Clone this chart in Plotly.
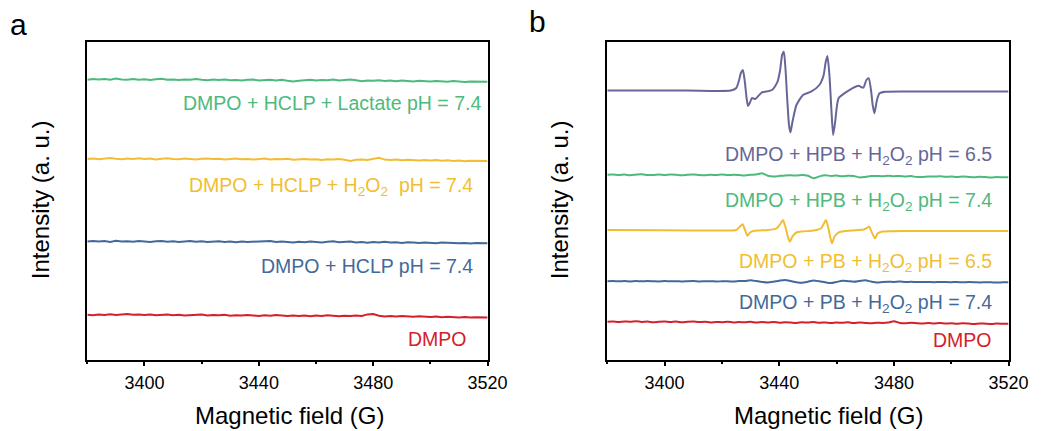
import numpy as np
import plotly.graph_objects as go

FIELD_MIN, FIELD_MAX = 3380, 3520
TICKS = [3400, 3440, 3480, 3520]

# ---- Panel a: noise-only spectra (relative intensity, 2 G steps) ----
A_LACTATE = [0.2, 0.9, 0.4, 1.1, 0.3, 1.4, 0.6, 0.2, 1.0, 0.3,
             0.8, 0.1, 0.7, 1.2, 0.2, 0.5, -0.1, 0.6, 0.2, 1.0,
             0.3, -0.2, 0.4, 0.0, 0.6, -0.3, 0.1, -0.5, 0.2, 0.5,
             -0.6, -0.1, 0.3, -0.4, 0.2, -0.8, -1.6, -0.7, -0.3, 0.2,
             -0.5, 0.1, -0.2, 0.6, -0.6, -0.1, 0.4, -0.3, -1.2, -0.4,
             -0.8, -0.2, -1.0, -0.5, -1.3, -0.6, -0.9, -1.4, -0.7, -1.1,
             -1.6, -0.9, -1.3, -1.8, -1.0, -1.5, -2.1, -1.4, -1.7, -2.0,
             -1.8]
A_H2O2 = [0.1, 0.6, -0.2, 0.4, 0.9, 0.2, -0.3, 0.5, 0.1, 0.7,
          0.0, 0.4, -0.4, 0.3, 0.8, 0.1, -0.2, 0.5, 0.0, -0.5,
          0.2, 0.6, -0.1, 0.3, -0.4, 0.1, 0.5, -0.3, 0.0, -0.6,
          -0.1, 0.4, -0.5, 0.0, -0.3, 0.3, -0.7, -0.2, 0.1, -0.6,
          -0.3, -0.9, -0.2, -0.6, 0.0, -0.8, -2.0, -0.7, -0.4, -1.0,
          0.3, 1.2, -0.6, -1.1, -0.5, -1.3, -0.8, -1.2, -1.6, -0.9,
          -1.4, -1.1, -1.7, -1.2, -1.9, -1.5, -2.2, -1.7, -2.0, -2.3,
          -2.0]
A_HCLP = [0.2, 0.8, 0.1, 0.6, -0.2, 0.9, 0.3, 0.5, -0.1, 0.7,
          0.2, -0.3, 0.4, 0.8, 0.0, 0.5, -0.2, 0.3, 0.6, -0.1,
          0.4, -0.4, 0.2, 0.5, -0.3, 0.1, -0.6, 0.3, -0.2, 0.0,
          -0.5, 0.2, 0.6, -0.3, 0.1, -0.4, -0.8, 0.0, -0.5, 0.3,
          -0.2, -0.7, -0.1, 0.4, -0.6, -0.3, 0.2, -0.8, -0.4, -1.0,
          -0.3, -0.7, 0.0, -0.9, -0.5, -1.2, -0.6, -0.9, -1.3, -0.8,
          -1.1, -1.5, -0.9, -1.3, -1.0, -1.6, -1.2, -1.8, -1.3, -1.6,
          -1.5]
A_DMPO = [0.3, -0.2, 0.5, 0.1, 0.7, -0.1, 0.4, 0.9, 0.2, 0.5,
          0.0, 0.6, -0.3, 0.2, 0.4, -0.2, 0.3, -0.4, 0.1, -0.1,
          0.4, -0.5, 0.0, -0.3, 0.2, -0.7, -0.2, -0.6, 0.1, -0.4,
          -0.9, -0.3, -0.7, -0.1, -0.8, -1.1, -0.5, -0.9, -0.4, -1.2,
          -0.6, -1.0, -0.3, -0.9, -1.3, -0.7, -1.1, -0.5, -1.0, 0.6,
          1.0, -0.8, -1.4, -1.0, -1.6, -1.1, -1.5, -1.8, -1.2, -1.7,
          -2.0, -1.5, -2.2, -1.7, -2.1, -2.4, -1.9, -2.6, -2.2, -2.5,
          -2.4]

# ---- Panel b ----
# DMPO-OH quartet, HPB + H2O2 at pH 6.5 (field, relative intensity)
HPB65_FIELD = [3380, 3407.7, 3423.1, 3425.0, 3426.0, 3426.6, 3427.3, 3428.0,
               3428.6, 3429.1, 3429.7, 3430.5, 3431.6, 3433.0, 3434.0, 3437.5,
               3439.4, 3440.3, 3441.0, 3441.6, 3442.2, 3442.8, 3443.4, 3443.9,
               3444.6, 3446.0, 3448.3, 3451.1, 3454.0, 3455.5, 3456.2, 3456.8,
               3457.5, 3458.2, 3458.8, 3459.5, 3460.7, 3463.6, 3467.6, 3469.3,
               3470.4, 3471.2, 3472.0, 3472.6, 3473.2, 3474.1, 3475.0, 3477.0,
               3490, 3520]
HPB65_INT = [0.5, 0.5, 0.5, 3, 11, 18, 21, 9,
             -7, -15, -12, -7, -8, -4, -1.3, 1,
             9.3, 21, 36, 39.3, 21, -9, -34, -41.3,
             -31, -14, -4, -0.7, 6, 16, 29, 35,
             16, -19, -44, -31, -7.3, -0.7, 5.3, 3.3,
             11, 12.7, 1, -14, -22.3, -9, -2.3, -0.7,
             -0.5, -0.5]

B_HPB74 = [0.2, 0.6, 0.0, 0.4, -0.2, 0.3, 0.7, 0.1, -0.1, 0.4,
           0.0, 0.5, 0.2, -0.3, 0.3, 0.6, 0.1, -0.2, 0.2, 0.0,
           0.4, -0.1, 0.3, 0.0, -0.4, 0.2, 0.6, 1.8, -0.8, -1.6,
           -1.0, -0.4, -0.2, -0.6, -0.1, -0.8, -3.2, -1.4, -0.3, -0.9,
           -0.6, -1.3, -0.7, -1.0, -2.4, -1.9, -1.1, -0.9, -1.3, -0.8,
           -1.2, -0.9, -1.5, -1.1, -2.1, -1.9, -1.4, -1.6, -1.2, -1.8,
           -1.5, -2.0, -1.6, -1.9, -2.2, -1.8, -2.1, -2.4, -2.0, -2.3,
           -2.2]

PB65_FIELD = [3380, 3400, 3420, 3425.0, 3426.3, 3427.2, 3428.0, 3428.9,
              3429.8, 3431.0, 3436.0, 3439.0, 3440.5, 3441.3, 3442.1, 3443.0,
              3443.7, 3444.6, 3446.0, 3448.0, 3452.0, 3454.5, 3455.6, 3456.3,
              3457.1, 3457.8, 3458.4, 3459.3, 3461.0, 3465.0, 3469.5, 3470.6,
              3471.4, 3472.3, 3473.4, 3474.3, 3476.0, 3490, 3520]
PB65_INT = [0.5, 0.3, 0.0, 0.5, 4, 6.2, 1, -5.2,
            -2, -0.5, 0.5, 2, 7, 10.5, 4, -6,
            -11.2, -6, -2, -1, 0, 2, 7, 10.5,
            3, -7, -12.8, -6, -1.5, 0, 1, 2.5,
            3.8, -2, -7.8, -3, -1, -0.5, -0.5]

B_PB74 = [0.1, 0.3, 0.0, 0.2, -0.1, 0.2, 0.0, 0.3, 0.1, -0.1,
          0.2, 0.0, 0.1, -0.2, 0.1, 0.2, -0.1, 0.0, 0.1, -0.2,
          0.0, 0.1, -0.3, 0.2, 0.4, 1.0, 0.2, -0.6, -1.2, -0.4,
          0.6, 1.3, 0.2, -1.0, -1.5, -0.4, 0.8, 0.0, -1.0, -1.8,
          -0.7, 0.5, 0.1, -0.4, 0.3, 1.0, -0.2, -1.2, -0.8, -0.5,
          -0.6, -0.3, -0.7, -0.5, -0.8, -0.6, -0.7, -0.9, -0.6, -0.8,
          -0.9, -0.7, -1.0, -0.8, -0.9, -1.1, -0.9, -1.0, -1.2, -1.0,
          -1.0]
B_DMPO = [0.2, 0.5, -0.1, 0.6, 0.2, 0.8, 0.1, 0.4, -0.2, 0.3,
          0.6, 0.0, 0.4, -0.3, 0.2, 0.5, -0.1, 0.3, -0.4, 0.1,
          -0.2, 0.3, -0.5, 0.0, -0.3, 0.2, -0.6, -0.1, -0.4, 0.1,
          -0.7, -0.2, -0.5, -0.9, -0.3, -0.6, -0.1, -0.8, -0.4, -1.0,
          -0.5, -0.8, -0.3, -1.1, -0.6, -0.9, -1.2, -0.7, -1.0, -0.6,
          0.8, -0.9, -1.3, -0.8, -1.2, -1.5, -1.0, -1.4, -1.1, -1.6,
          -1.3, -1.7, -1.2, -1.5, -1.9, -1.4, -1.7, -2.0, -1.6, -1.8,
          -1.7]

LABELS_A = ["DMPO + HCLP + Lactate pH = 7.4",
            "DMPO + HCLP + H<sub>2</sub>O<sub>2</sub>  pH = 7.4",
            "DMPO + HCLP pH = 7.4",
            "DMPO"]
LABELS_B = ["DMPO + HPB + H<sub>2</sub>O<sub>2</sub> pH = 6.5",
            "DMPO + HPB + H<sub>2</sub>O<sub>2</sub> pH = 7.4",
            "DMPO + PB + H<sub>2</sub>O<sub>2</sub> pH = 6.5",
            "DMPO + PB + H<sub>2</sub>O<sub>2</sub> pH = 7.4",
            "DMPO"]

# stacking offsets and styling
OFFSETS_A = [279.5, 200.5, 117.8, 44.5]
OFFSETS_B = [268.5, 184.5, 129.0, 78.2, 37.5]
GREEN, YELLOW, BLUE, RED, PURPLE = "#4cba7c", "#f1be33", "#43699a", "#d5202c", "#666699"
COLORS_A = [GREEN, YELLOW, BLUE, RED]
COLORS_B = [PURPLE, GREEN, YELLOW, BLUE, RED]

W, H = 1057, 431
FONT = "Liberation Sans, Arial, Helvetica, sans-serif"


def grid(vals):
    return np.linspace(FIELD_MIN, FIELD_MAX, len(vals))


fig = go.Figure()

series_a = [(grid(v), v) for v in (A_LACTATE, A_H2O2, A_HCLP, A_DMPO)]
for (fx, iv), off, col in zip(series_a, OFFSETS_A, COLORS_A):
    fig.add_trace(go.Scatter(x=fx, y=np.array(iv) + off, mode="lines",
                             line=dict(color=col, width=2), xaxis="x", yaxis="y",
                             showlegend=False, hoverinfo="skip"))

series_b = [(np.array(HPB65_FIELD), HPB65_INT), (grid(B_HPB74), B_HPB74),
            (np.array(PB65_FIELD), PB65_INT), (grid(B_PB74), B_PB74),
            (grid(B_DMPO), B_DMPO)]
for (fx, iv), off, col in zip(series_b, OFFSETS_B, COLORS_B):
    fig.add_trace(go.Scatter(x=fx, y=np.array(iv) + off, mode="lines",
                             line=dict(color=col, width=2, shape="spline", smoothing=0.6),
                             xaxis="x2", yaxis="y2", showlegend=False, hoverinfo="skip"))


def px_x(p):
    return p / W


def px_y(p):
    return 1 - p / H


xdom_a = [px_x(89), px_x(497)]
xdom_b = [px_x(619), px_x(1028)]
ydom = [px_y(359.5), px_y(41.5)]

xaxis_common = dict(range=[FIELD_MIN, FIELD_MAX], tickvals=TICKS, ticks="outside",
                    ticklen=5, tickwidth=1.5, tickcolor="black",
                    minor=dict(tickvals=[3380, 3420, 3460, 3500], ticks="outside",
                               ticklen=3, tickwidth=1.5, tickcolor="black"),
                    showline=True, linecolor="black", linewidth=1.8, mirror=True,
                    showgrid=False, zeroline=False,
                    tickfont=dict(family=FONT, size=18, color="black"),
                    ticklabelstandoff=1)
yaxis_common = dict(range=[0, 318], domain=ydom, showticklabels=False, ticks="",
                    showline=True, linecolor="black", linewidth=1.8, mirror=True,
                    showgrid=False, zeroline=False)

fig.update_layout(
    width=W, height=H, margin=dict(l=0, r=0, t=0, b=0),
    paper_bgcolor="white", plot_bgcolor="white",
    xaxis=dict(domain=xdom_a, anchor="y", **xaxis_common),
    yaxis=dict(anchor="x", **yaxis_common),
    xaxis2=dict(domain=xdom_b, anchor="y2", **xaxis_common),
    yaxis2=dict(anchor="x2", **yaxis_common),
)

ann = []
# curve labels, right-aligned inside each panel
for text, col, (xr, yc) in zip(LABELS_A, COLORS_A,
                                [(492, 103), (484, 186), (484, 265.5), (478, 338.5)]):
    ann.append(dict(text=text, x=px_x(xr), y=px_y(yc), xref="paper", yref="paper",
                    xanchor="right", yanchor="middle", showarrow=False,
                    font=dict(family=FONT, size=19.5, color=col)))
for text, col, yc in zip(LABELS_B, COLORS_B, [155, 201, 262, 303, 340]):
    ann.append(dict(text=text, x=px_x(1013), y=px_y(yc), xref="paper", yref="paper",
                    xanchor="right", yanchor="middle", showarrow=False,
                    font=dict(family=FONT, size=19.5, color=col)))

# axis titles and panel letters
for xc in (295, 844):
    ann.append(dict(text="Magnetic field (G)", x=px_x(xc), y=px_y(415), xref="paper",
                    yref="paper", xanchor="center", yanchor="middle", showarrow=False,
                    font=dict(family=FONT, size=24, color="black")))
for xc in (41, 570):
    ann.append(dict(text="Intensity (a. u.)", x=px_x(xc), y=px_y(200), xref="paper",
                    yref="paper", xanchor="center", yanchor="middle", showarrow=False,
                    textangle=-90, font=dict(family=FONT, size=24, color="black")))
for letter, xc, yc in (("a", 19, 25), ("b", 548, 21)):
    ann.append(dict(text=letter, x=px_x(xc), y=px_y(yc), xref="paper", yref="paper",
                    xanchor="center", yanchor="middle", showarrow=False,
                    font=dict(family=FONT, size=30, color="black")))

fig.update_layout(annotations=ann)
fig.write_html("out.html")
